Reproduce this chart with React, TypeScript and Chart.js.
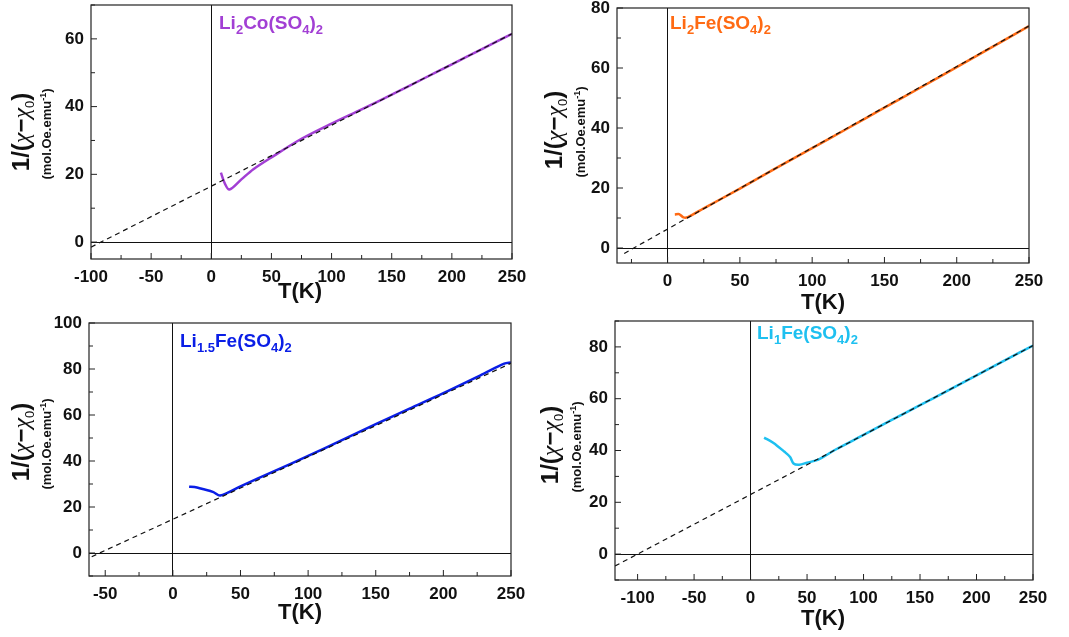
import { useEffect, useRef } from 'react';
import Chart from 'chart.js/auto';

// Li2Co(SO4)2
const coT = [8, 11, 15, 25, 35, 50, 75, 100, 125, 150, 175, 200, 225, 250];
const coY = [20.5, 17.5, 15.5, 18.5, 21.5, 25, 30.5, 35, 39.2, 43.5, 48, 52.5, 57, 61.5];
const coFitT = [-100, 250];
const coFitY = [-1.5, 61.5];

// Li2Fe(SO4)2
const feT = [5, 8, 11, 14, 25, 50, 75, 100, 125, 150, 175, 200, 225, 250];
const feY = [11.2, 11.3, 10.2, 10.3, 13.2, 19.8, 26.6, 33.3, 40, 46.8, 53.5, 60.3, 67.1, 74];
const feFitT = [-30, 250];
const feFitY = [-1.8, 74];

// Li1.5Fe(SO4)2
const fe15T = [12, 16, 22, 30, 35, 50, 75, 100, 125, 150, 175, 200, 230, 245, 250];
const fe15Y = [28.8, 28.7, 27.8, 26.5, 25, 29, 35.6, 42.2, 49.1, 56, 62.8, 69.5, 78, 82.3, 82.8];
const fe15FitT = [-60, 250];
const fe15FitY = [-1.6, 82.5];

// Li1Fe(SO4)2
const fe1T = [12, 20, 30, 35, 38, 43, 50, 60, 75, 100, 125, 150, 175, 200, 225, 250];
const fe1Y = [45, 43, 39.5, 37.5, 35, 34.5, 35.3, 36.5, 40.3, 46, 51.8, 57.5, 63.2, 69, 74.8, 80.5];
const fe1FitT = [-120, 250];
const fe1FitY = [-4.6, 80.5];

const coXTicks = [-100, -50, 0, 50, 100, 150, 200, 250];
const coYTicks = [0, 20, 40, 60];
const feXTicks = [0, 50, 100, 150, 200, 250];
const feYTicks = [0, 20, 40, 60, 80];
const fe15XTicks = [-50, 0, 50, 100, 150, 200, 250];
const fe15YTicks = [0, 20, 40, 60, 80, 100];
const fe1XTicks = [-100, -50, 0, 50, 100, 150, 200, 250];
const fe1YTicks = [0, 20, 40, 60, 80];

const FONT = 'Arial, "Liberation Sans", sans-serif';

const frame = {
  id: 'frame',
  afterDraw(chart: any) {
    const { ctx, chartArea: a, scales } = chart;
    ctx.save();
    ctx.strokeStyle = '#222';
    ctx.lineWidth = 1.2;
    ctx.strokeRect(a.left, a.top, a.right - a.left, a.bottom - a.top);
    ctx.lineWidth = 1;
    const x = scales.x;
    const y = scales.y;
    for (let v = Math.ceil(x.min / 25) * 25; v <= x.max; v += 25) {
      const px = x.getPixelForValue(v);
      const len = v % 50 === 0 ? 6 : 4;
      ctx.beginPath();
      ctx.moveTo(px, a.bottom);
      ctx.lineTo(px, a.bottom - len);
      ctx.stroke();
    }
    for (let v = Math.ceil(y.min / 10) * 10; v <= y.max; v += 10) {
      const py = y.getPixelForValue(v);
      const len = v % 20 === 0 ? 6 : 4;
      ctx.beginPath();
      ctx.moveTo(a.left, py);
      ctx.lineTo(a.left + len, py);
      ctx.stroke();
    }
    ctx.restore();
  },
};

interface PanelProps {
  left: number;
  top: number;
  width: number;
  height: number;
  plot: [number, number, number, number]; // plot left, top, right, bottom (in panel coords)
  xr: [number, number];
  yr: [number, number];
  xTicks: number[];
  yTicks: number[];
  t: number[];
  v: number[];
  fitT: number[];
  fitV: number[];
  color: string;
}

function Panel(p: PanelProps) {
  const ref = useRef<HTMLCanvasElement>(null);
  useEffect(() => {
    if (!ref.current) return;
    const [pl, pt, pr, pb] = p.plot;
    const chart = new Chart(ref.current, {
      type: 'scatter',
      data: {
        datasets: [
          {
            data: p.fitT.map((x, i) => ({ x, y: p.fitV[i] })),
            showLine: true,
            borderColor: '#111',
            borderWidth: 1.2,
            borderDash: [5, 4],
            pointRadius: 0,
          },
          {
            data: p.t.map((x, i) => ({ x, y: p.v[i] })),
            showLine: true,
            borderColor: p.color,
            borderWidth: 2.5,
            tension: 0.3,
            pointRadius: 0,
          },
        ],
      },
      options: {
        animation: false,
        responsive: false,
        layout: { padding: { left: 0, top: pt, right: p.width - pr, bottom: 0 } },
        plugins: { legend: { display: false }, tooltip: { enabled: false } },
        scales: {
          x: {
            type: 'linear',
            min: p.xr[0],
            max: p.xr[1],
            afterBuildTicks: (s: any) => { s.ticks = p.xTicks.map((value) => ({ value })); },
            afterFit: (s: any) => { s.height = p.height - pb; s.paddingLeft = 0; s.paddingRight = 0; },
            border: { display: false },
            grid: {
              drawTicks: false,
              color: (c: any) => (c.tick && c.tick.value === 0 ? '#111' : 'transparent'),
            },
            ticks: { color: '#111', padding: 8, maxRotation: 0, font: { family: FONT, size: 17, weight: 'bold' } },
          },
          y: {
            type: 'linear',
            min: p.yr[0],
            max: p.yr[1],
            afterBuildTicks: (s: any) => { s.ticks = p.yTicks.map((value) => ({ value })); },
            afterFit: (s: any) => { s.width = pl; s.paddingTop = 0; s.paddingBottom = 0; },
            border: { display: false },
            grid: {
              drawTicks: false,
              color: (c: any) => (c.tick && c.tick.value === 0 ? '#111' : 'transparent'),
            },
            ticks: { color: '#111', padding: 7, font: { family: FONT, size: 17, weight: 'bold' } },
          },
        },
      },
      plugins: [frame],
    } as any);
    return () => chart.destroy();
  }, []);
  return (
    <canvas
      ref={ref}
      width={p.width}
      height={p.height}
      style={{ position: 'absolute', left: p.left, top: p.top, width: p.width, height: p.height }}
    />
  );
}

function YTitle({ x, y, cx }: { x: number; y: number; cx: number }) {
  const rot = { position: 'absolute' as const, transform: 'translate(-50%,-50%) rotate(-90deg)', whiteSpace: 'nowrap' as const, fontFamily: FONT, fontWeight: 'bold' as const, color: '#111' };
  return (
    <>
      <div style={{ ...rot, left: x, top: y, fontSize: 24 }}>
        1/(<i style={{ fontFamily: 'serif', fontWeight: 'normal' }}>χ</i>−<i style={{ fontFamily: 'serif', fontWeight: 'normal' }}>χ</i><sub style={{ fontSize: 13, fontWeight: 'normal' }}>0</sub>)
      </div>
      <div style={{ ...rot, left: cx, top: y + 2, fontSize: 13 }}>
        (mol.Oe.emu<sup style={{ fontSize: 9 }}>-1</sup>)
      </div>
    </>
  );
}

function Label({ x, y, color, pre, mid }: { x: number; y: number; color: string; pre: string; mid: string }) {
  return (
    <div style={{ position: 'absolute', left: x, top: y, color, fontFamily: FONT, fontWeight: 'bold', fontSize: 19, whiteSpace: 'nowrap' }}>
      Li<sub style={{ fontSize: 13 }}>{pre}</sub>{mid}(SO<sub style={{ fontSize: 13 }}>4</sub>)<sub style={{ fontSize: 13 }}>2</sub>
    </div>
  );
}

function XTitle({ x, y }: { x: number; y: number }) {
  return (
    <div style={{ position: 'absolute', left: x, top: y, transform: 'translate(-50%,-50%)', fontFamily: FONT, fontWeight: 'bold', fontSize: 22, color: '#111' }}>
      T(K)
    </div>
  );
}

export default function App() {
  return (
    <div style={{ position: 'absolute', left: 0, top: 0, width: 1069, height: 637, background: '#fff', overflow: 'hidden' }}>
      <Panel left={0} top={0} width={530} height={310} plot={[91, 5, 512, 259]} xr={[-100, 250]} yr={[-5, 70]}
        xTicks={coXTicks} yTicks={coYTicks} t={coT} v={coY} fitT={coFitT} fitV={coFitY} color="#a23fd4" />
      <Panel left={530} top={0} width={539} height={310} plot={[87, 8, 499, 263]} xr={[-35, 250]} yr={[-5, 80]}
        xTicks={feXTicks} yTicks={feYTicks} t={feT} v={feY} fitT={feFitT} fitV={feFitY} color="#ff6a13" />
      <Panel left={0} top={310} width={530} height={327} plot={[89, 13, 511, 266]} xr={[-62, 250]} yr={[-10, 100]}
        xTicks={fe15XTicks} yTicks={fe15YTicks} t={fe15T} v={fe15Y} fitT={fe15FitT} fitV={fe15FitY} color="#0a1ee6" />
      <Panel left={530} top={310} width={539} height={327} plot={[85, 11, 503, 270]} xr={[-120, 250]} yr={[-10, 90]}
        xTicks={fe1XTicks} yTicks={fe1YTicks} t={fe1T} v={fe1Y} fitT={fe1FitT} fitV={fe1FitY} color="#1ec0f0" />

      <YTitle x={22} y={132} cx={46} />
      <YTitle x={555} y={130} cx={580} />
      <YTitle x={22} y={442} cx={46} />
      <YTitle x={551} y={445} cx={576} />

      <Label x={219} y={12} color="#a23fd4" pre="2" mid="Co" />
      <Label x={670} y={12} color="#ff6a13" pre="2" mid="Fe" />
      <Label x={180} y={330} color="#0a1ee6" pre="1.5" mid="Fe" />
      <Label x={757} y={322} color="#1ec0f0" pre="1" mid="Fe" />

      <XTitle x={300} y={291} />
      <XTitle x={823} y={302} />
      <XTitle x={300} y={612} />
      <XTitle x={823} y={618} />
    </div>
  );
}
